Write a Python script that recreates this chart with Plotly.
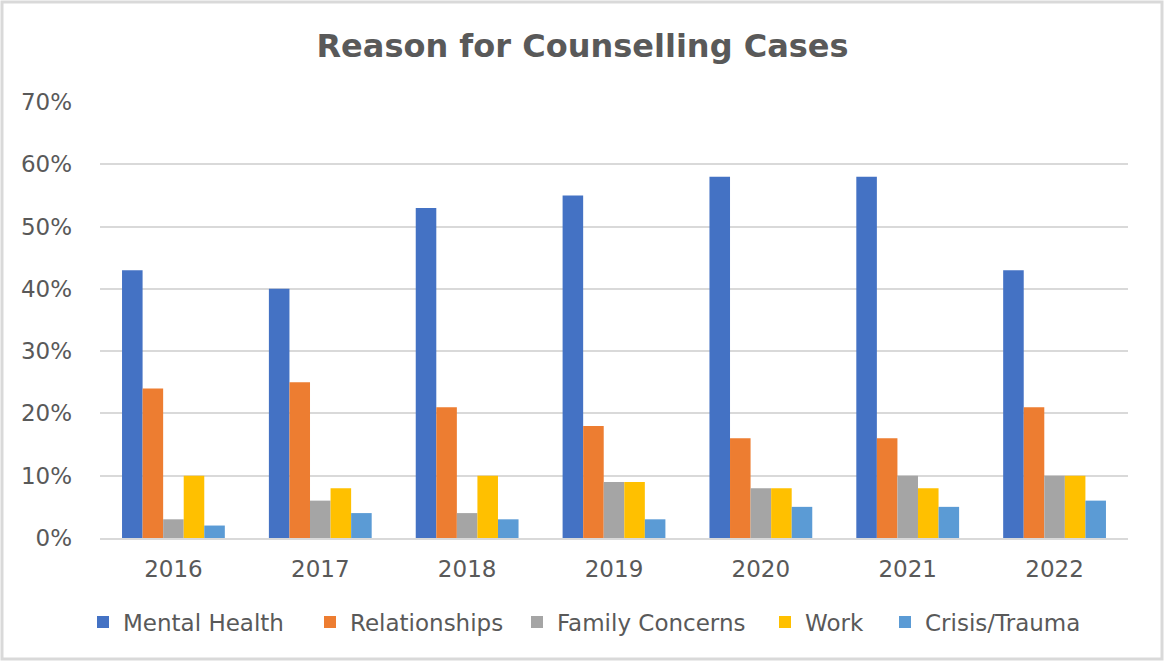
import plotly.graph_objects as go

years = ["2016", "2017", "2018", "2019", "2020", "2021", "2022"]
mental_health = [0.43, 0.40, 0.53, 0.55, 0.58, 0.58, 0.43]
relationships = [0.24, 0.25, 0.21, 0.18, 0.16, 0.16, 0.21]
family_concerns = [0.03, 0.06, 0.04, 0.09, 0.08, 0.10, 0.10]
work = [0.10, 0.08, 0.10, 0.09, 0.08, 0.08, 0.10]
crisis_trauma = [0.02, 0.04, 0.03, 0.03, 0.05, 0.05, 0.06]

series = [
    ("Mental Health", mental_health, "#4472C4"),
    ("Relationships", relationships, "#ED7D31"),
    ("Family Concerns", family_concerns, "#A5A5A5"),
    ("Work", work, "#FFC000"),
    ("Crisis/Trauma", crisis_trauma, "#5B9BD5"),
]

W, H = 1165, 662
ml, mr, mt, mb = 100, 37, 102, 124
pw, ph = W - ml - mr, H - mt - mb

def px_x(p):
    return (p - ml) / pw

def px_y(p):
    return (H - mb - p) / ph

font_fam = "DejaVu Sans, sans-serif"
legend_left = [96, 323, 530, 778, 898]
legend_offset = 13

fig = go.Figure()
legend_layouts = {}
for i, (name, vals, color) in enumerate(series):
    key = "legend" if i == 0 else f"legend{i + 1}"
    fig.add_trace(go.Bar(x=years, y=vals, name=name, marker_color=color,
                         marker_line_width=0, legend=key))
    legend_layouts[key] = dict(
        orientation="h", x=px_x(legend_left[i] - legend_offset), xanchor="left",
        y=px_y(622), yanchor="middle", bgcolor="rgba(0,0,0,0)",
        font=dict(size=23, color="#595959", family=font_fam), itemclick=False,
        itemwidth=30,
    )

fig.update_layout(
    width=W, height=H,
    margin=dict(l=ml, r=mr, t=mt, b=mb),
    paper_bgcolor="white", plot_bgcolor="white",
    barmode="group", bargap=0.3, bargroupgap=0,
    font=dict(family=font_fam, color="#595959", size=23),
    title=dict(text="<b>Reason for Counselling Cases</b>", x=0.5, xanchor="center",
               y=1 - 46 / H, yanchor="middle",
               font=dict(size=32, color="#595959", family=font_fam)),
    xaxis=dict(showgrid=False, showline=True, linecolor="#D9D9D9", linewidth=2,
               ticks="", tickfont=dict(size=23, color="#595959"), ticklabelstandoff=9),
    yaxis=dict(range=[0, 0.70], dtick=0.1, tickformat=".0%", showgrid=True,
               gridcolor="#D9D9D9", gridwidth=2, zeroline=False, showline=False,
               ticks="", tickfont=dict(size=23, color="#595959"), ticklabelstandoff=27),
    showlegend=True,
    **legend_layouts,
)

fig.add_shape(type="rect", xref="paper", yref="paper",
              x0=px_x(2), x1=px_x(W - 3), y0=px_y(H - 3), y1=px_y(2),
              line=dict(color="#D9D9D9", width=3), fillcolor="rgba(0,0,0,0)", layer="below")

fig.write_html("out.html")
